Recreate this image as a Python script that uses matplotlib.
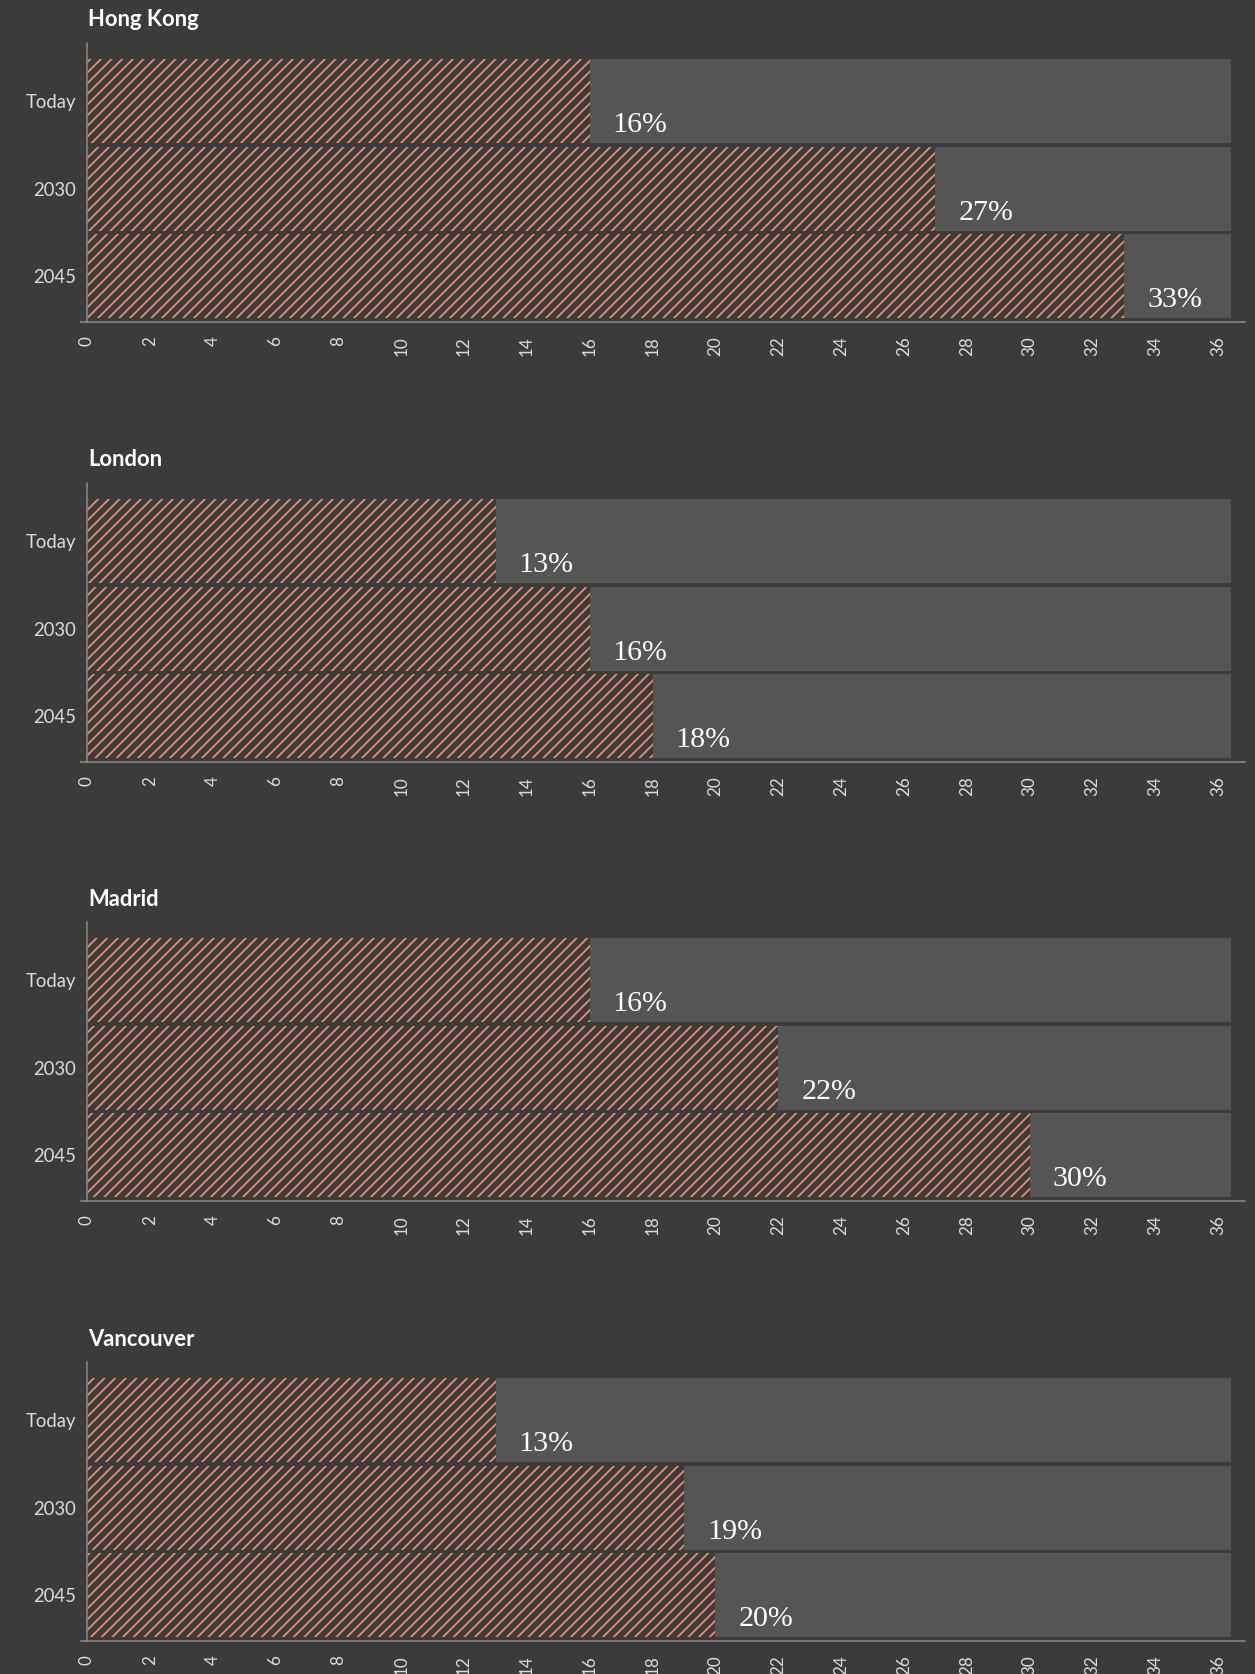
import matplotlib
matplotlib.use("Agg")
import matplotlib.pyplot as plt
import numpy as np

# data (share in %)
cities = ['Hong Kong', 'London', 'Madrid', 'Vancouver']
periods = ['Today', '2030', '2045']
hong_kong = [16, 27, 33]
london = [13, 16, 18]
madrid = [16, 22, 30]
vancouver = [13, 19, 20]
values = [hong_kong, london, madrid, vancouver]
x_ticks = list(range(0, 37, 2))

DPI = 128
W, H = 1255, 1674
def px(v):
    # pixels -> points
    return v * 72.0 / DPI

bg = '#3b3b39'
track = '#555553'
hatch_col = '#f08c74'
axis_col = '#8c8c8a'
text_col = '#dcdcda'

plt.rcParams['hatch.linewidth'] = px(1.8)
plt.rcParams['font.family'] = ['Lato', 'DejaVu Sans']

fig = plt.figure(figsize=(W / DPI, H / DPI), dpi=DPI, facecolor=bg)

tops = [43, 483, 922, 1362]
ax_h = 279
left, right = 87, 1245
xmax = 36.85
track_end = 36.42
ylim = (2.52, -0.66)

for city, vals, top in zip(cities, values, tops):
    ax = fig.add_axes([left / W, 1 - (top + ax_h) / H, (right - left) / W, ax_h / H])
    ax.set_facecolor(bg)
    y = np.arange(len(periods))

    # grey track behind each bar
    ax.barh(y, [track_end] * len(periods), height=0.96, color=track, linewidth=0)
    ax.barh(y, vals, height=0.96, color=bg, edgecolor=hatch_col, linewidth=0, hatch='////')

    for yi, v in zip(y, vals):
        ax.annotate(f'{v}%', xy=(v, yi + 0.48), xytext=(px(23), px(11)),
                    textcoords='offset points', ha='left', va='baseline',
                    fontsize=px(30), color='white', family='Liberation Serif')

    ax.set_xlim(0, xmax)
    ax.set_ylim(*ylim)
    ax.set_yticks(y)
    ax.set_yticklabels(periods)
    ax.set_xticks(x_ticks)
    ax.set_xticklabels([str(t) for t in x_ticks], rotation=90)

    # small outer ticks like the d3 axis domain
    ax.set_xticks([0], minor=True)
    ax.set_yticks([ylim[0]], minor=True)
    ax.tick_params(axis='x', which='major', length=0, pad=px(14), labelsize=px(17), labelcolor=text_col)
    ax.tick_params(axis='y', which='major', length=0, pad=px(11), labelsize=px(18.5), labelcolor=text_col)
    ax.tick_params(axis='x', which='minor', length=px(4), width=px(1.5), color=axis_col, direction='out')
    ax.tick_params(axis='y', which='minor', length=px(7), width=px(1.5), color=axis_col, direction='out')

    for s in ['top', 'right']:
        ax.spines[s].set_visible(False)
    for s in ['left', 'bottom']:
        ax.spines[s].set_color(axis_col)
        ax.spines[s].set_linewidth(px(1.5))

    ax.annotate(city, xy=(0, 1), xycoords='axes fraction', xytext=(px(1), px(23)),
                textcoords='offset points', ha='left', va='center',
                fontsize=px(22), fontweight='bold', color='white')

fig.savefig('out.png', dpi=DPI, facecolor=bg)
